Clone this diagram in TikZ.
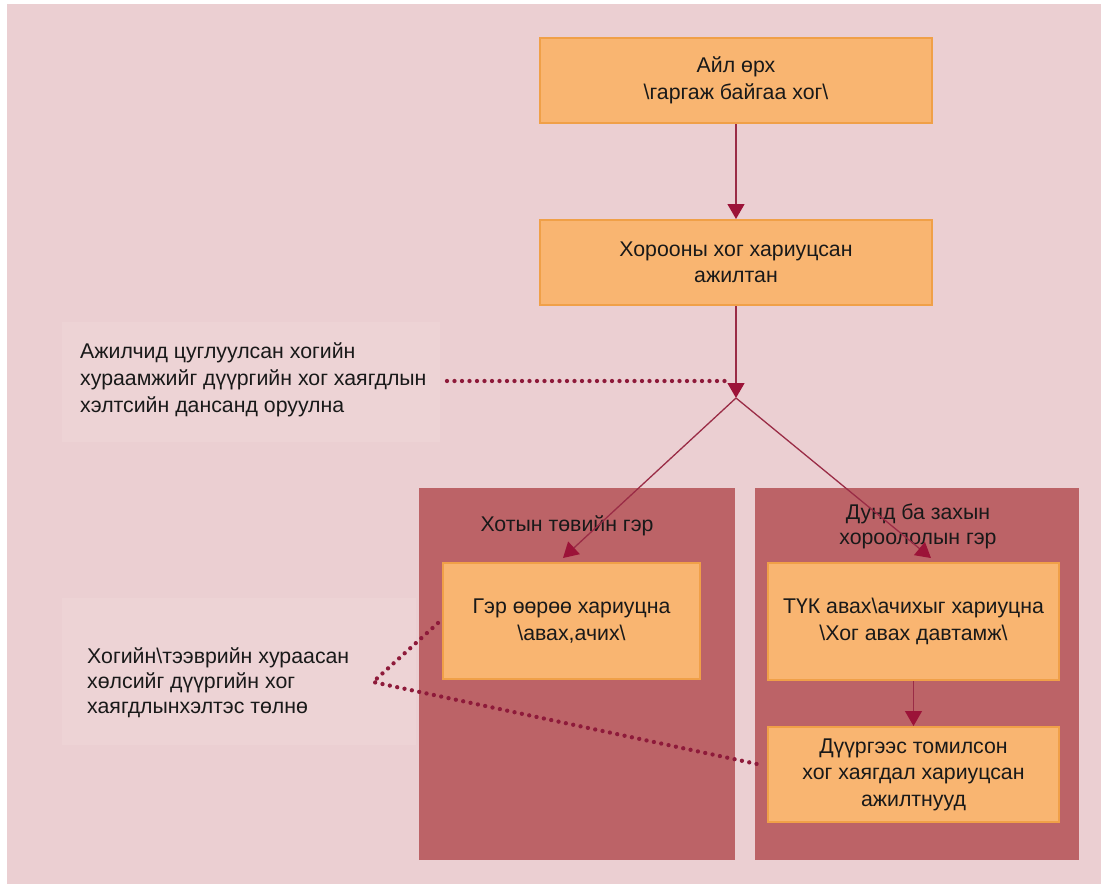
\documentclass[tikz,border=0pt]{standalone}
\usepackage{fontspec}
\setmainfont{Liberation Sans}
\usetikzlibrary{arrows.meta}
\definecolor{bgpink}{HTML}{EBCFD2}
\definecolor{lightpink}{HTML}{EDD3D5}
\definecolor{orangefill}{HTML}{F9B571}
\definecolor{orangeline}{HTML}{F0A048}
\definecolor{panelred}{HTML}{BC6367}
\definecolor{linered}{HTML}{9A2C46}
\definecolor{tipred}{HTML}{9C1338}
\definecolor{dotred}{HTML}{8E1A3A}
\tikzset{
  obox/.style={rectangle, fill=orangefill, draw=orangeline, line width=2pt, align=center, inner sep=0pt, text=black!90},
  panel/.style={rectangle, fill=panelred, inner sep=0pt},
  lbl/.style={align=center, inner sep=0pt, text=black!90},
  note/.style={align=left, inner sep=0pt, anchor=west, text=black!90},
  arr/.style={draw=linered, line width=1.3pt, -{Triangle[width=17pt,length=15pt,fill=tipred,color=tipred]}},
  dotline/.style={draw=dotred, line width=4.3pt, line cap=round, dash pattern=on 0pt off 7.5pt}
}
\begin{document}
\begin{tikzpicture}[x=1pt,y=-1pt, every node/.style={font=\fontsize{21.3}{26.5}\selectfont}]
\useasboundingbox (0,0) rectangle (1101,884);
\fill[white] (0,0) rectangle (1101,884);
\fill[bgpink] (7,4) rectangle (1101,884);
\fill[lightpink] (62,322) rectangle (440,442);
\fill[lightpink] (62,598) rectangle (416,745);

% top boxes
\node[obox, minimum width=392pt, minimum height=85pt] (b1) at (736,80.5) {Айл өрх\\\textbackslash гаргаж байгаа хог\textbackslash};
\node[obox, minimum width=392pt, minimum height=85pt] (b2) at (736,262.5) {Хорооны хог хариуцсан\\ажилтан};

% panels
\node[panel, minimum width=316pt, minimum height=372pt] (pL) at (577,674) {};
\node[panel, minimum width=324pt, minimum height=372pt] (pR) at (917,674) {};

\node[lbl] (tL) at (567,526) {Хотын төвийн гэр};
\node[lbl, font=\fontsize{21.3}{25}\selectfont] (tR) at (918,526) {Дунд ба захын\\хороололын гэр};

% inner boxes
\node[obox, minimum width=257pt, minimum height=116pt] (g1) at (571.5,621) {Гэр өөрөө хариуцна\\\textbackslash авах,ачих\textbackslash};
\node[obox, minimum width=291pt, minimum height=117pt] (k1) at (913.5,621.5) {ТҮК авах\textbackslash ачихыг хариуцна\\\textbackslash Хог авах давтамж\textbackslash};
\node[obox, minimum width=291pt, minimum height=95pt, font=\fontsize{21.3}{26.5}\selectfont] (d1) at (913.5,774.5) {Дүүргээс томилсон\\хог хаягдал хариуцсан\\ажилтнууд};

% notes
\node[note, font=\fontsize{21.3}{27}\selectfont] (n1) at (80,380) {Ажилчид цуглуулсан хогийн\\хураамжийг дүүргийн хог хаягдлын\\хэлтсийн дансанд оруулна};
\node[note, font=\fontsize{21.3}{25}\selectfont] (n2) at (87,683) {Хогийн\textbackslash тээврийн хураасан\\хөлсийг дүүргийн хог\\хаягдлынхэлтэс төлнө};

% coordinates
\coordinate (j) at (736,398);
\coordinate (eL) at (563,558);
\coordinate (eR) at (931,558);
\coordinate (dA) at (447,381);
\coordinate (dB) at (726,381);
\coordinate (sA) at (438,623);
\coordinate (sV) at (373,682);
\coordinate (sB) at (757,764);

% connectors
\draw[arr] (b1) -- (b2);
\draw[arr] (b2) -- (j);
\draw[arr] (j) -- (eL);
\draw[arr] (j) -- (eR);
\draw[arr] (k1.south) -- (d1.north);

\draw[dotline] (dA) -- (dB);
\draw[dotline] (sA) -- (sV) -- (sB);
\end{tikzpicture}
\end{document}
